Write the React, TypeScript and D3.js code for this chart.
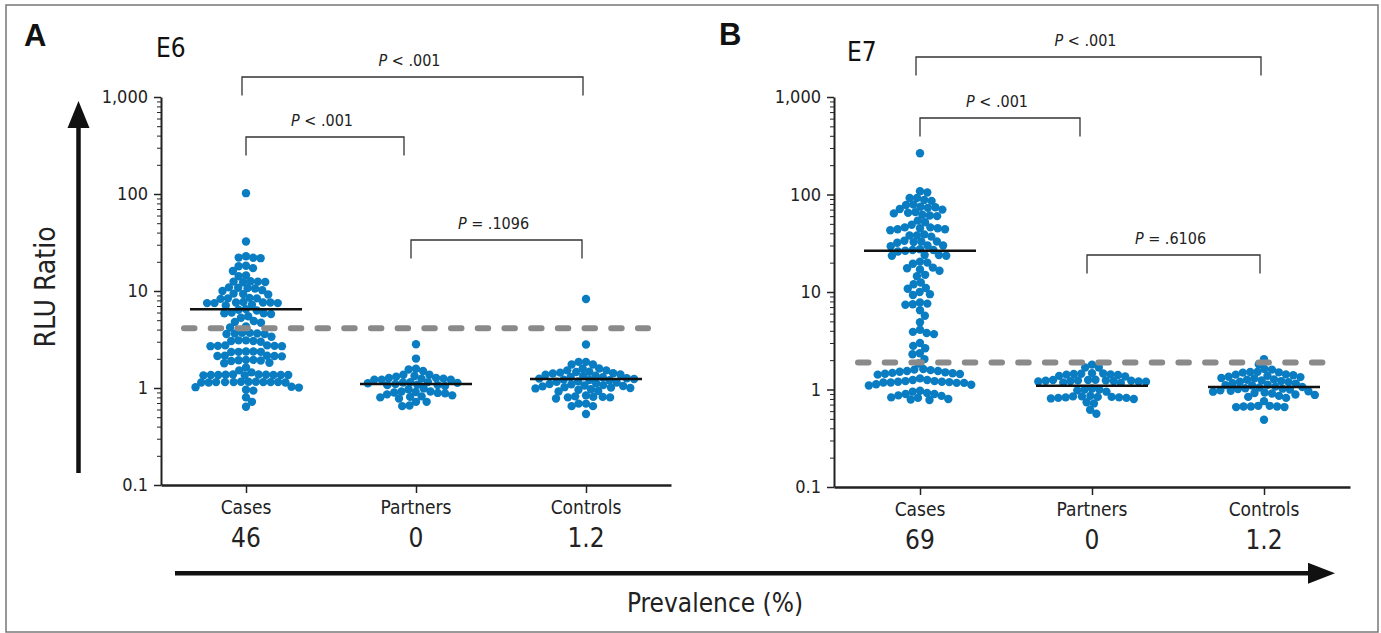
import React, { useEffect, useRef } from 'react';
import * as d3 from 'd3';

const groups = ['Cases', 'Partners', 'Controls'];
const prevalenceE6 = ['46', '0', '1.2'];
const prevalenceE7 = ['69', '0', '1.2'];
const yTicks = [0.1, 1, 10, 100, 1000];
const yTickLabels = ['0.1', '1', '10', '100', '1,000'];

// RLU ratios (one value per dot)
const e6Cases = [
  102, 32.4,
  22.8, 22.1, 22.0, 21.8,
  18.2, 18.0, 17.2, 16.1,
  14.5, 14.2,
  12.6, 12.5, 12.5, 12.4, 12.3,
  10.9, 10.8, 10.7, 10.6,
  10.2, 10.0,
  9.4, 9.3, 9.2,
  8.5, 8.4, 8.4, 8.3,
  7.7, 7.6, 7.6, 7.6, 7.5, 7.5, 7.5, 7.2, 7.1,
  6.5, 6.4, 6.3,
  6.0, 5.9, 5.9, 5.8,
  5.5, 5.3,
  4.9, 4.8, 4.7,
  4.3, 4.2,
  3.7, 3.65, 3.6, 3.6, 3.65, 3.7,
  3.37,
  3.1, 3.05, 3.05, 3.0, 3.1,
  2.75, 2.72, 2.7, 2.7, 2.72, 2.75,
  2.38, 2.36, 2.35, 2.36, 2.38,
  2.15, 2.14, 2.12, 2.14, 2.15,
  1.95, 1.93, 1.92, 1.9, 1.95,
  1.82, 1.8,
  1.63, 1.52, 1.45,
  1.38, 1.37, 1.36, 1.36, 1.35, 1.36, 1.37, 1.36, 1.35, 1.38, 1.36,
  1.16, 1.15, 1.15, 1.14, 1.16, 1.15, 1.15, 1.14, 1.16, 1.15, 1.14, 1.15,
  1.03, 1.02, 1.01,
  0.96, 0.94,
  0.8, 0.72, 0.64,
];
const e6Partners = [
  2.83, 2.01, 1.58, 1.55, 1.5,
  1.37, 1.37, 1.33, 1.31, 1.27, 1.27, 1.25, 1.25, 1.22, 1.22, 1.22,
  1.15, 1.15, 1.14, 1.13, 1.12, 1.1, 1.08, 1.07, 1.07, 1.05,
  0.99, 0.97,
  0.92, 0.92, 0.91, 0.9, 0.89, 0.88, 0.86, 0.84,
  0.82, 0.81, 0.8, 0.78,
  0.72, 0.72, 0.66, 0.65,
];
const e6Controls = [
  8.27, 2.81, 1.86, 1.86, 1.75, 1.75, 1.59, 1.59, 1.52, 1.52,
  1.47, 1.46, 1.44, 1.42, 1.41, 1.38, 1.37, 1.34, 1.33,
  1.3, 1.29, 1.26, 1.25, 1.24, 1.22, 1.21, 1.2,
  1.17, 1.16, 1.14, 1.12, 1.1, 1.09, 1.07, 1.06, 1.05, 1.04,
  1.02, 1.01, 1.0, 0.99, 0.97, 0.96, 0.93, 0.92,
  0.84, 0.82, 0.8, 0.8, 0.78, 0.81, 0.81, 0.69, 0.69, 0.65, 0.65, 0.54,
];
const e7Cases = [
  265,
  108, 105,
  92, 92, 88, 86,
  79, 78, 75, 74, 73, 71, 70,
  66, 65, 64, 62, 61, 60,
  54, 52, 49,
  46, 46, 45, 45, 44, 44, 43,
  39, 38, 38, 37,
  33.5, 33, 33, 32.5, 32,
  30, 30, 29.5,
  27.5, 27, 27, 26.5, 26,
  24, 24, 23.5, 23.5,
  20.5, 20, 19.5,
  17.8, 17.5, 17, 16.5,
  15, 14.5,
  12.5, 12,
  11, 10.8, 10,
  9.5, 9.3,
  7.8, 7.6, 7.5, 7.4,
  6.5, 5.7, 4.9,
  4.1, 3.9, 3.8, 3.7,
  3.0, 2.8, 2.65,
  2.35, 2.3,
  2.05, 1.85,
  1.62, 1.6, 1.58, 1.55, 1.55, 1.52, 1.5, 1.48,
  1.47, 1.45, 1.44, 1.42,
  1.3, 1.25, 1.22, 1.2, 1.19, 1.18, 1.18, 1.17, 1.17, 1.2, 1.22, 1.25,
  1.13, 1.12, 1.1,
  0.97, 0.95,
  0.92, 0.9, 0.86, 0.82, 0.79, 0.78, 0.8, 0.83, 0.87, 0.9,
];
const e7Partners = [
  1.8, 1.68, 1.68,
  1.47, 1.46, 1.45, 1.44, 1.43, 1.42, 1.41,
  1.38, 1.36,
  1.26, 1.25, 1.25, 1.24, 1.24, 1.23, 1.23, 1.22, 1.22, 1.21, 1.21, 1.2,
  1.18, 1.17,
  1.02, 1.0, 1.0, 0.98,
  0.95,
  0.86, 0.85, 0.85, 0.84, 0.84, 0.83, 0.83, 0.82, 0.82, 0.81, 0.8,
  0.74, 0.72,
  0.62, 0.565,
];
const e7Controls = [
  2.05, 1.81, 1.62, 1.6, 1.52, 1.51, 1.5, 1.49, 1.43, 1.42,
  1.4, 1.38, 1.35, 1.34, 1.31, 1.3, 1.27, 1.26, 1.24,
  1.22, 1.2, 1.19, 1.16, 1.15, 1.12, 1.11, 1.1,
  1.07, 1.06, 1.05, 1.03, 1.02, 1.01, 1.0, 0.98, 0.97, 0.96,
  0.95, 0.93, 0.92, 0.91, 0.89, 0.88,
  0.86, 0.84, 0.82, 0.76, 0.68, 0.67, 0.67, 0.66, 0.66, 0.67, 0.68, 0.49,
];

const e6Means = [6.5, 1.1, 1.24];
const e7Means = [26.5, 1.09, 1.06];
const cutoffs = [4.14, 1.89];
const comparisons = [[0, 2], [0, 1], [1, 2]];
const e6PLabels = ['< .001', '< .001', '= .1096'];
const e7PLabels = ['< .001', '< .001', '= .6106'];

const FONT = "'Liberation Sans Narrow', 'DejaVu Sans Condensed', 'Liberation Sans', Arial, sans-serif";
const DOT = '#0a7dc2';
const SPACING = 7.4;

// greedy beeswarm: each dot goes as close to the centre as it can without overlapping
function beeswarm(values: number[], y: (v: number) => number, cx: number, d: number) {
  const pts = values.map((v) => ({ v, y: y(v), x: 0 }));
  const order = pts.slice().sort((a, b) => b.v - a.v);
  const placed: { v: number; y: number; x: number }[] = [];
  order.forEach((p, k) => {
    const near = placed.filter((q) => Math.abs(q.y - p.y) < d);
    const cands = [0];
    near.forEach((q) => {
      const dx = Math.sqrt(d * d - (q.y - p.y) ** 2);
      cands.push(q.x - dx, q.x + dx);
    });
    const ok = cands.filter((c) => near.every((q) => (c - q.x) ** 2 + (p.y - q.y) ** 2 >= d * d - 1e-6));
    ok.sort((a, b) => Math.abs(a) - Math.abs(b) || (k % 2 ? a - b : b - a));
    p.x = ok[0];
    placed.push(p);
  });
  return pts.map((p) => ({ ...p, x: cx + p.x }));
}

const panels = [
  {
    letter: 'A', gene: 'E6', left: 161, right: 671, top: 97, bottom: 485,
    series: [e6Cases, e6Partners, e6Controls], means: e6Means, cutoff: cutoffs[0],
    prevalence: prevalenceE6, pLabels: e6PLabels,
    letterX: 24, letterY: 46, geneX: 156, geneY: 57, bracketY: [-20, 40, 143],
  },
  {
    letter: 'B', gene: 'E7', left: 834, right: 1350, top: 97, bottom: 487,
    series: [e7Cases, e7Partners, e7Controls], means: e7Means, cutoff: cutoffs[1],
    prevalence: prevalenceE7, pLabels: e7PLabels,
    letterX: 719, letterY: 45, geneX: 847, geneY: 61, bracketY: [-40, 21, 158],
  },
];
const bracketOffsets = [[-4, -3], [0, -12], [-5, -4]];

const App: React.FC = () => {
  const ref = useRef<SVGSVGElement>(null);

  useEffect(() => {
    const svg = d3.select(ref.current);
    svg.selectAll('*').remove();

    svg.append('rect')
      .attr('x', 6).attr('y', 5).attr('width', 1372).attr('height', 627)
      .attr('fill', 'none').attr('stroke', '#777').attr('stroke-width', 1.5);

    panels.forEach((p) => {
      const y = d3.scaleLog().domain([0.1, 1000]).range([p.bottom, p.top]);
      const x = d3.scalePoint<string>().domain(groups).range([p.left, p.right]).padding(0.5);
      const g = svg.append('g');

      // y axis, major + minor ticks
      const ya = g.append('g')
        .attr('transform', `translate(${p.left},0)`)
        .call(d3.axisLeft(y).tickValues(yTicks).tickFormat((_, i) => yTickLabels[i]).tickSize(7).tickSizeOuter(0).tickPadding(6));
      ya.attr('font-family', FONT).attr('font-size', 18);
      ya.select('.domain').attr('stroke', '#222').attr('stroke-width', 2);
      ya.selectAll('.tick line').attr('stroke', '#222').attr('stroke-width', 1.5);
      ya.selectAll('.tick text').attr('fill', '#222');

      const minor = y.ticks().filter((t) => Math.abs(Math.log10(t) - Math.round(Math.log10(t))) > 1e-6);
      const ym = g.append('g')
        .attr('transform', `translate(${p.left},0)`)
        .call(d3.axisLeft(y).tickValues(minor).tickFormat(() => '').tickSize(4).tickSizeOuter(0));
      ym.select('.domain').remove();
      ym.selectAll('.tick line').attr('stroke', '#222').attr('stroke-width', 1);

      // x axis
      const xa = g.append('g')
        .attr('transform', `translate(0,${p.bottom})`)
        .call(d3.axisBottom(x).tickSize(8).tickSizeOuter(0).tickFormat(() => ''));
      xa.select('.domain').attr('stroke', '#222').attr('stroke-width', 2.5);
      xa.selectAll('.tick line').attr('stroke', '#222').attr('stroke-width', 1.5);

      g.selectAll('.cat').data(groups).enter().append('text')
        .attr('x', (d) => x(d)!).attr('y', p.bottom + 29)
        .attr('text-anchor', 'middle').attr('font-family', FONT).attr('font-size', 19).attr('fill', '#222')
        .text((d) => d);
      g.selectAll('.prev').data(p.prevalence).enter().append('text')
        .attr('x', (_, i) => x(groups[i])!).attr('y', p.bottom + 62)
        .attr('text-anchor', 'middle').attr('font-family', FONT).attr('font-size', 26).attr('fill', '#222')
        .text((d) => d);

      // dots
      p.series.forEach((vals, i) => {
        const pts = beeswarm(vals, y, x(groups[i])!, SPACING);
        g.append('g').selectAll('circle').data(pts).enter().append('circle')
          .attr('cx', (d) => d.x).attr('cy', (d) => d.y).attr('r', 4.2).attr('fill', DOT);
      });

      // cutoff
      g.append('line')
        .attr('x1', x(groups[0])! - 62).attr('x2', x(groups[2])! + 62)
        .attr('y1', y(p.cutoff)).attr('y2', y(p.cutoff))
        .attr('stroke', '#8a8a8a').attr('stroke-width', 6)
        .attr('stroke-dasharray', '10.5 16.2').attr('stroke-linecap', 'round');

      // mean lines
      g.selectAll('.mean').data(p.means).enter().append('line')
        .attr('x1', (_, i) => x(groups[i])! - 56).attr('x2', (_, i) => x(groups[i])! + 56)
        .attr('y1', (d) => y(d)).attr('y2', (d) => y(d))
        .attr('stroke', '#111').attr('stroke-width', 2.5);

      // significance brackets
      comparisons.forEach(([a, b], k) => {
        const x1 = x(groups[a])! + bracketOffsets[k][0];
        const x2 = x(groups[b])! + bracketOffsets[k][1];
        const by = p.top + p.bracketY[k];
        g.append('path')
          .attr('d', `M${x1},${by + 18.5}V${by}H${x2}V${by + 18.5}`)
          .attr('fill', 'none').attr('stroke', '#333').attr('stroke-width', 1.3);
        const t = g.append('text')
          .attr('x', (x1 + x2) / 2 - 3).attr('y', by - 11.5)
          .attr('text-anchor', 'middle').attr('font-family', FONT).attr('font-size', 16).attr('fill', '#222');
        t.append('tspan').attr('font-style', 'italic').text('P');
        t.append('tspan').text(' ' + p.pLabels[k]);
      });

      svg.append('text')
        .attr('x', p.letterX).attr('y', p.letterY)
        .attr('font-family', "'Liberation Sans', Arial, sans-serif").attr('font-weight', 'bold').attr('font-size', 31).attr('fill', '#111')
        .text(p.letter);
      svg.append('text')
        .attr('x', p.geneX).attr('y', p.geneY)
        .attr('font-family', FONT).attr('font-size', 26).attr('fill', '#111')
        .text(p.gene);
    });

    // y arrow
    svg.append('line').attr('x1', 78.5).attr('x2', 78.5).attr('y1', 473).attr('y2', 125)
      .attr('stroke', '#111').attr('stroke-width', 4.5);
    svg.append('path').attr('d', 'M78.5,101L67.5,128H89.5Z').attr('fill', '#111');
    svg.append('text')
      .attr('transform', 'translate(55,287) rotate(-90)')
      .attr('text-anchor', 'middle').attr('font-family', FONT).attr('font-size', 28).attr('fill', '#222')
      .text('RLU Ratio');

    // x arrow
    svg.append('line').attr('x1', 175).attr('x2', 1310).attr('y1', 573.3).attr('y2', 573.3)
      .attr('stroke', '#111').attr('stroke-width', 4.5);
    svg.append('path').attr('d', 'M1335,573.3L1308,562.8V583.8Z').attr('fill', '#111');
    svg.append('text')
      .attr('x', 715).attr('y', 612)
      .attr('text-anchor', 'middle').attr('font-family', FONT).attr('font-size', 26).attr('fill', '#222')
      .text('Prevalence (%)');
  }, []);

  return (
    <svg ref={ref} width={1381} height={633} style={{ position: 'absolute', left: 0, top: 0, background: '#fff' }}></svg>
  );
};

export default App;
